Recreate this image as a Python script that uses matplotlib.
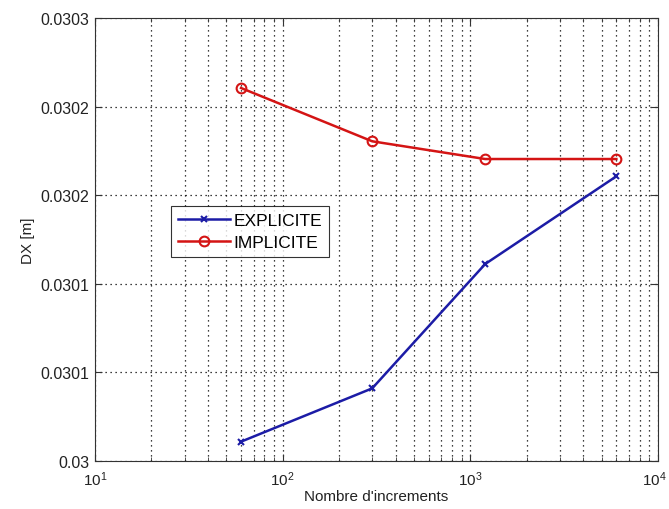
import numpy as np
import matplotlib
matplotlib.use("Agg")
import matplotlib.pyplot as plt
import matplotlib.transforms as mtransforms
from matplotlib.ticker import LogLocator, FixedLocator, NullFormatter

plt.rcParams['font.family'] = ['Liberation Sans', 'DejaVu Sans']
plt.rcParams['mathtext.fontset'] = 'custom'
plt.rcParams['mathtext.rm'] = 'Liberation Sans'
plt.rcParams['mathtext.it'] = 'Liberation Sans'

# donnees
increments = [60, 300, 1200, 6000]
dx_explicite = [0.0300131, 0.0300492, 0.0301334, 0.0301928]
dx_implicite = [0.0302526, 0.0302165, 0.0302045, 0.0302045]

y_ticks = [0.03, 0.03006, 0.03012, 0.03018, 0.03024, 0.0303]
y_labels = ['0.03', '0.0301', '0.0301', '0.0302', '0.0302', '0.0303']

fig = plt.figure(figsize=(6.69, 5.10), dpi=100)
ax = fig.add_axes([95/669, 1 - 462/510, (658-95)/669, (462-19)/510])

ax.plot(increments, dx_explicite, color='#1c1ca6', lw=1.8, marker='x',
        ms=5, mew=1.5, label='EXPLICITE')
ax.plot(increments, dx_implicite, color='#d41414', lw=1.8, marker='o',
        ms=7, mfc='none', mew=1.5, label='IMPLICITE')

ax.set_xscale('log')
ax.set_xlim(10, 1e4)
ax.set_ylim(0.03, 0.0303)
ax.xaxis.set_major_locator(LogLocator(base=10, numticks=10))
ax.xaxis.set_minor_locator(LogLocator(base=10, subs=np.arange(2, 10), numticks=20))
ax.xaxis.set_minor_formatter(NullFormatter())
ax.yaxis.set_major_locator(FixedLocator(y_ticks))
ax.set_yticklabels(y_labels)

ax.grid(True, which='major', ls=(0, (1, 3)), color='black', lw=0.9)
ax.grid(True, which='minor', axis='x', ls=(0, (1, 3)), color='black', lw=0.9)
ax.tick_params(which='both', direction='in', top=True, right=True,
               labelsize=11.5, colors='#333333', labelcolor='#222222')
ax.tick_params(axis='x', labelsize=11)
ax.tick_params(which='major', length=5)
ax.tick_params(which='minor', length=3)
ax.tick_params(axis='x', pad=6)
ax.tick_params(axis='y', pad=4)
for s in ax.spines.values():
    s.set_color('#333333')
    s.set_linewidth(0.8)

ax.set_xlabel("Nombre d'increments", fontsize=11, labelpad=1, color='#222222')
ax.set_ylabel("DX [m]", fontsize=11, labelpad=4, color='#222222')

leg = ax.legend(loc='upper left', bbox_to_anchor=(0.135, 0.576), fontsize=12.5,
                frameon=True, fancybox=False, edgecolor='black',
                handlelength=3.0, borderpad=0.4, labelspacing=0.4, handletextpad=0.2,
                borderaxespad=0)
leg.get_frame().set_linewidth(0.8)

# 10^4 un peu vers la gauche pour rester dans l'image
fig.canvas.draw()
last = ax.xaxis.get_major_ticks()[-1]
for t in ax.xaxis.get_major_ticks():
    if abs(t.get_loc() - 1e4) < 1:
        t.label1.set_transform(t.label1.get_transform() +
                               mtransforms.ScaledTranslation(-4/100, 0, fig.dpi_scale_trans))

plt.savefig('out.png', dpi=100)
